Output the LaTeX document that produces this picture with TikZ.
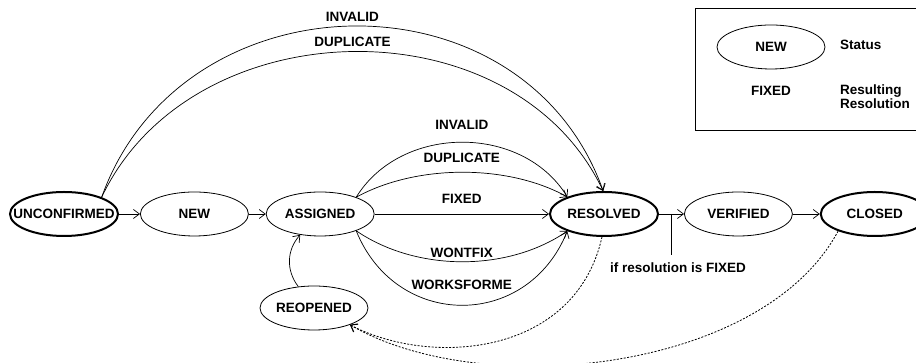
\documentclass[tikz,border=0pt]{standalone}
\usepackage{fontspec}
\setmainfont{Liberation Sans}
\usetikzlibrary{math}
\usetikzlibrary{shapes.geometric}
\usetikzlibrary{arrows.meta}
\usetikzlibrary{positioning}

\begin{document}
\begin{tikzpicture}[x=1pt, y=1pt,
    font=\bfseries\fontsize{13.5}{14}\selectfont,
    >={Straight Barb[length=6pt, width=9pt]},
    status/.style={ellipse, draw, line width=0.8pt, minimum width=108pt, minimum height=44pt, inner sep=0pt},
    final/.style={status, line width=2pt},
    trans/.style={->, line width=0.7pt},
    reopen/.style={->, line width=0.8pt, dash pattern=on 2pt off 1.5pt},
    lbl/.style={inner sep=0pt}]
  \tikzmath{
    \ry = 149;
  }
  \useasboundingbox (0, 0) rectangle (916, 363);
  \clip (0, 0) rectangle (916, 363);

  % states
  \node [final] (unconf) at (64, \ry) {\makebox[0pt]{UNCONFIRMED}};
  \node [status, right=21pt of unconf] (new) {\makebox[0pt]{NEW}};
  \node [status, right=17pt of new] (assigned) {\makebox[0pt]{ASSIGNED}};
  \node [final] (resolved) at (604, \ry) {\makebox[0pt]{RESOLVED}};
  \node [status, right=25pt of resolved] (verified) {\makebox[0pt]{VERIFIED}};
  \node [final, right=27pt of verified] (closed) {\makebox[0pt]{CLOSED}};
  \node [status] (reopened) at (314, 55) {\makebox[0pt]{REOPENED}};

  % straight transitions
  \foreach \a/\b in {unconf/new, new/assigned, verified/closed} {
    \draw [trans] (\a) -- (\b);
  }
  \draw [trans] (assigned) -- node[lbl, above=10pt] (lbfixed) {FIXED} (resolved);
  \draw [trans] (resolved) -- coordinate[pos=0.48] (split) (verified);
  \draw [line width=0.7pt] (split) -- ++(0, -41) node[lbl, below=7pt, xshift=7pt] (cond) {if resolution is FIXED};

  % resolutions from unconfirmed
  \draw [trans] (unconf.24) .. controls +(80, 224) and +(-80, 224) .. node[lbl, above=4pt] (lbinvalid) {INVALID} (resolved.92);
  \draw [trans] (unconf.24) .. controls +(90, 190) and +(-90, 190) .. node[lbl, above=5pt] (lbdup) {DUPLICATE} (resolved.92);

  % resolutions from assigned
  \draw [trans] (assigned.25) .. controls +(45, 73) and +(-45, 73) .. node[lbl, above=12pt] (lbinvalidb) {INVALID} (resolved.155);
  \draw [trans] (assigned.25) .. controls +(60, 33) and +(-60, 33) .. node[lbl, above=9pt] (lbdupb) {DUPLICATE} (resolved.155);
  \draw [trans] (assigned.-25) .. controls +(60, -41) and +(-60, -41) .. node[lbl, above=4pt] (lbwont) {WONTFIX} (resolved.205);
  \draw [trans] (assigned.-25) .. controls +(40, -99) and +(-40, -99) .. node[lbl, above=15pt] (lbworks) {WORKSFORME} (resolved.205);

  % reopening
  \draw [trans] (reopened) to[bend left=40] (assigned);
  \draw [reopen] (resolved.265) .. controls +(-27, -120) and +(80, -42) .. (reopened.-25);
  \draw [reopen] (closed.205) .. controls +(-76, -142) and +(130, -76) .. (reopened.-25);

  % legend
  \draw [line width=0.7pt] (695, 233) rectangle (930, 355);
  \node [status] (keystatus) at (771, 316) {\makebox[0pt]{NEW}};
  \node [lbl, anchor=west] (keystatustxt) at (840, 318) {Status};
  \node [lbl] (keyfixed) at (771, 272) {FIXED};
  \node [lbl, anchor=west, align=left] (keyres) at (840, 266) {Resulting\\Resolution};
\end{tikzpicture}
\end{document}
